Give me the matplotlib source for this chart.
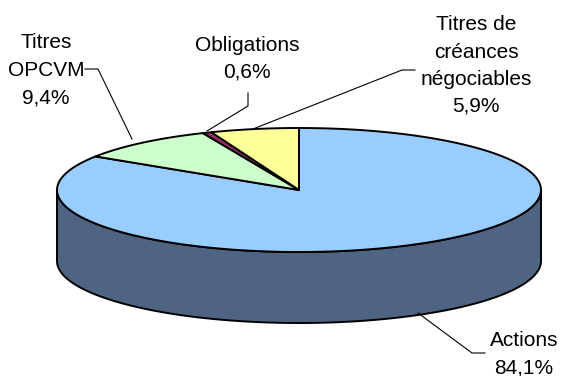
import numpy as np
import matplotlib
matplotlib.use("Agg")
import matplotlib.pyplot as plt
from matplotlib.patches import Polygon

# Portfolio composition (%), listed clockwise from twelve o'clock
categories = ["Actions", "Titres\nOPCVM", "Obligations", "Titres de\ncréances\nnégociables"]
values = [84.1, 9.4, 0.6, 5.9]
top_colors = ["#99CCFF", "#CCFFCC", "#993366", "#FFFF99"]
side_colors = ["#4F6482", "#6E8A6E", "#4D1A33", "#8A8A52"]

# Ellipse geometry in pixel space
cx, cy = 299.0, 190.0
rx, ry = 242.0, 62.0
depth = 71.0

plt.rcParams["font.family"] = ["Liberation Sans", "DejaVu Sans"]

fig = plt.figure(figsize=(5.63, 3.76), dpi=100)
ax = fig.add_axes([0, 0, 1, 1])
ax.set_xlim(0, 563)
ax.set_ylim(376, 0)
ax.axis("off")


def ellipse_pts(t0, t1, yoff=0.0, n=200):
    t = np.radians(np.linspace(t0, t1, n))
    return np.column_stack([cx + rx * np.cos(t), cy + yoff - ry * np.sin(t)])


fracs = np.array(values) / np.sum(values)
bounds = 90.0 - 360.0 * np.concatenate([[0.0], np.cumsum(fracs)])

# Visible side wall: front half of the cylinder (angles between -180 and 0)
for i in range(len(values)):
    t_start = min(bounds[i], bounds[i + 1])
    t_end = max(bounds[i], bounds[i + 1])
    segs = []
    for shift in (-360, 0, 360):
        s = max(t_start + shift, -180)
        e = min(t_end + shift, 0)
        if e > s:
            segs.append((s, e))
    for s, e in segs:
        upper = ellipse_pts(s, e)
        lower = ellipse_pts(e, s, yoff=depth)
        ax.add_patch(Polygon(np.vstack([upper, lower]), closed=True,
                             facecolor=side_colors[i], edgecolor="black",
                             linewidth=1.4, joinstyle="round", zorder=2))

# Top face wedges
for i in range(len(values)):
    arc = ellipse_pts(bounds[i], bounds[i + 1])
    pts = np.vstack([[cx, cy], arc])
    ax.add_patch(Polygon(pts, closed=True, facecolor=top_colors[i],
                         edgecolor="black", linewidth=1.4,
                         joinstyle="round", zorder=3))

# Labels (anchored at the baseline of their last line) with leader lines
label_pos = [(524, 373), (46, 103), (247, 78), (476, 112)]
leaders = [
    [(485, 353), (472, 353), (418, 313)],
    [(85, 69), (98, 69), (132, 139)],
    [(248, 93), (248, 106), (207, 131)],
    [(415, 70), (402, 70), (253, 129)],
]


def pct(v):
    return f"{v:.1f}".replace(".", ",") + "%"


for name, v, (tx, ty), line in zip(categories, values, label_pos, leaders):
    ax.text(tx, ty, f"{name}\n{pct(v)}", ha="center", va="baseline",
            multialignment="center", fontsize=15, linespacing=1.55,
            color="black", zorder=5)
    xs, ys = zip(*line)
    ax.plot(xs, ys, color="black", linewidth=0.8, zorder=4)

fig.savefig("out.png", dpi=100, facecolor="white")
